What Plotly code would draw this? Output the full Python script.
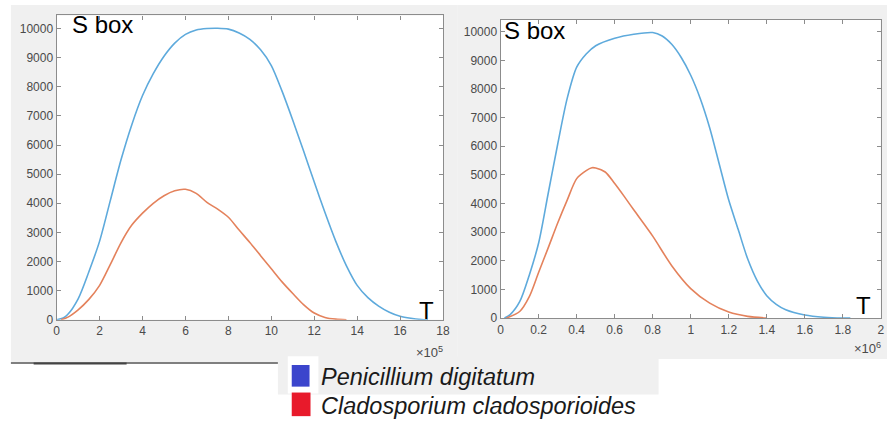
import plotly.graph_objects as go

W, H = 894, 432

# ---------------- data ----------------
# Left panel (T in units of 1e5)
left_x_scale = 1e5
left_blue_x = [0, 0.3, 0.5, 1, 1.5, 2, 2.5, 3, 3.5, 4, 4.5, 5, 5.5, 6, 6.5, 7, 7.5, 8, 8.5, 9, 9.5, 10, 10.5, 11, 11.5, 12, 12.5, 13, 13.5, 14, 14.5, 15, 15.5, 16, 16.5, 17, 17.3]
left_blue_y = [0, 60, 170, 720, 1650, 2700, 4100, 5500, 6700, 7700, 8450, 9050, 9500, 9800, 9950, 10000, 10010, 9980, 9850, 9630, 9270, 8730, 7850, 6850, 5800, 4730, 3680, 2700, 1850, 1180, 760, 470, 260, 120, 50, 10, 0]
left_red_x = [0.2, 0.5, 1, 1.5, 2, 2.5, 3, 3.5, 4, 4.5, 5, 5.5, 6, 6.5, 7, 7.5, 8, 8.5, 9, 9.5, 10, 10.5, 11, 11.5, 12, 12.5, 13, 13.5]
left_red_y = [0, 80, 340, 700, 1180, 1900, 2650, 3250, 3660, 4000, 4260, 4430, 4480, 4340, 4030, 3800, 3520, 3080, 2650, 2200, 1750, 1300, 900, 520, 230, 80, 20, 0]

# Right panel (T in units of 1e6)
right_x_scale = 1e6
right_blue_x = [0.02, 0.05, 0.1, 0.15, 0.2, 0.25, 0.3, 0.35, 0.4, 0.45, 0.5, 0.6, 0.7, 0.8, 0.85, 0.9, 0.95, 1.0, 1.05, 1.1, 1.15, 1.2, 1.25, 1.3, 1.35, 1.4, 1.45, 1.5, 1.6, 1.7, 1.8, 1.84]
right_blue_y = [0, 120, 570, 1490, 2630, 4350, 6070, 7670, 8760, 9220, 9510, 9770, 9910, 9970, 9850, 9560, 9100, 8480, 7670, 6640, 5380, 4120, 3090, 2060, 1300, 780, 480, 290, 110, 30, 0, 0]
right_red_x = [0.03, 0.1, 0.15, 0.2, 0.25, 0.3, 0.35, 0.4, 0.45, 0.48, 0.5, 0.55, 0.6, 0.65, 0.7, 0.8, 0.9, 1.0, 1.1, 1.2, 1.3, 1.4]
right_red_y = [0, 230, 740, 1600, 2450, 3320, 4120, 4870, 5150, 5250, 5240, 5100, 4700, 4250, 3780, 2860, 1830, 1030, 520, 210, 60, 0]

left_xticks = list(range(0, 19, 2))
right_xticks = [0, 0.2, 0.4, 0.6, 0.8, 1, 1.2, 1.4, 1.6, 1.8, 2]
right_xticktext = ["0", "0.2", "0.4", "0.6", "0.8", "1", "1.2", "1.4", "1.6", "1.8", "2"]
yticks = list(range(0, 10001, 1000))

legend_names = ["Penicillium digitatum", "Cladosporium cladosporioides"]
legend_colors = ["#3b45cc", "#e81a2b"]

BLUE = "#5eaadc"
ORANGE = "#e4825c"

# ---------------- figure ----------------
fig = go.Figure()
fig.add_trace(go.Scatter(x=[v * left_x_scale for v in left_blue_x], y=left_blue_y, mode="lines",
                         line=dict(color=BLUE, width=1.6, shape="spline", smoothing=0.8), xaxis="x", yaxis="y", showlegend=False))
fig.add_trace(go.Scatter(x=[v * left_x_scale for v in left_red_x], y=left_red_y, mode="lines",
                         line=dict(color=ORANGE, width=1.6, shape="spline", smoothing=0.8), xaxis="x", yaxis="y", showlegend=False))
fig.add_trace(go.Scatter(x=[v * right_x_scale for v in right_blue_x], y=right_blue_y, mode="lines",
                         line=dict(color=BLUE, width=1.6, shape="spline", smoothing=0.8), xaxis="x2", yaxis="y2", showlegend=False))
fig.add_trace(go.Scatter(x=[v * right_x_scale for v in right_red_x], y=right_red_y, mode="lines",
                         line=dict(color=ORANGE, width=1.6, shape="spline", smoothing=0.8), xaxis="x2", yaxis="y2", showlegend=False))

def px(x):
    return x / W

def py(y):
    return 1 - y / H

# axis geometry (pixels)
L = dict(x0=54.3, x1=445.0, y0=15.7, y1=325.0)
R = dict(x0=503.3, x1=887.7, y0=20.0, y1=323.3)

tickfont = dict(family="Liberation Sans, Arial, sans-serif", size=12, color="#4a4a4a")
axcommon = dict(showgrid=False, zeroline=False, showline=True, linecolor="#8c8c8c", linewidth=1.3,
                mirror="ticks", ticks="inside", ticklen=4, tickcolor="#8c8c8c", tickwidth=1,
                tickfont=tickfont)

fig.update_layout(
    width=W, height=H, margin=dict(l=0, r=0, t=0, b=0),
    paper_bgcolor="white", plot_bgcolor="rgba(0,0,0,0)",
    showlegend=False,
    xaxis=dict(domain=[px(L["x0"]), px(L["x1"])], range=[0, 18 * left_x_scale], anchor="y",
               tickvals=[v * left_x_scale for v in left_xticks], ticktext=[str(v) for v in left_xticks], **axcommon),
    yaxis=dict(domain=[py(L["y1"]), py(L["y0"])], range=[0, 10450], anchor="x",
               tickvals=yticks, ticktext=[str(v) for v in yticks], **axcommon),
    xaxis2=dict(domain=[px(R["x0"]), px(R["x1"])], range=[0, 2 * right_x_scale], anchor="y2",
                tickvals=[v * right_x_scale for v in right_xticks], ticktext=right_xticktext, **axcommon),
    yaxis2=dict(domain=[py(R["y1"]), py(R["y0"])], range=[0, 10420], anchor="x2",
                tickvals=yticks, ticktext=[str(v) for v in yticks], **axcommon),
)

GRAY = "#f0f0f0"
shapes = []
def rect(x0, y0, x1, y1, color):
    shapes.append(dict(type="rect", xref="paper", yref="paper", x0=px(x0), x1=px(x1), y0=py(y1), y1=py(y0),
                       fillcolor=color, line=dict(width=0), layer="below"))

rect(8, 5, 460, 368, GRAY)
rect(460, 5, 894, 365, GRAY)
rect(278, 362, 663, 401, GRAY)
rect(288, 362, 319, 400, "white")
rect(L["x0"], L["y0"], L["x1"], L["y1"], "white")
rect(R["x0"], R["y0"], R["x1"], R["y1"], "white")
# bottom border line of left panel
shapes.append(dict(type="line", xref="paper", yref="paper", x0=px(8), x1=px(278), y0=py(369), y1=py(369),
                   line=dict(color="#555555", width=1.5), layer="below"))
shapes.append(dict(type="line", xref="paper", yref="paper", x0=px(31), x1=px(125), y0=py(369.5), y1=py(369.5),
                   line=dict(color="#444444", width=2), layer="below"))
# legend squares
rect(292, 371, 310, 393, legend_colors[0])
rect(292, 399, 311, 423, legend_colors[1])
fig.update_layout(shapes=shapes)

big = dict(family="Liberation Sans, Arial, sans-serif", size=24, color="black")
small = dict(family="Liberation Sans, Arial, sans-serif", size=13, color="#4a4a4a")
ann = []
def text(x, y, s, font, xanchor="left"):
    ann.append(dict(xref="paper", yref="paper", x=px(x), y=py(y), text=s, showarrow=False,
                    xanchor=xanchor, yanchor="middle", font=font))

text(68, 25, "S box", big)
text(505, 31, "S box", big)
text(428, 316, "T", big, "center")
text(870, 311, "T", big, "center")
text(447, 358, "×10<sup>5</sup>", small, "right")
text(890, 354, "×10<sup>6</sup>", small, "right")
leg_font = dict(family="Liberation Sans, Arial, sans-serif", size=23.5, color="#1a1a1a")
text(320, 383, "<i>" + legend_names[0] + "</i>", leg_font)
text(320, 413, "<i>" + legend_names[1] + "</i>", leg_font)
fig.update_layout(annotations=ann)

fig.write_html("out.html")
